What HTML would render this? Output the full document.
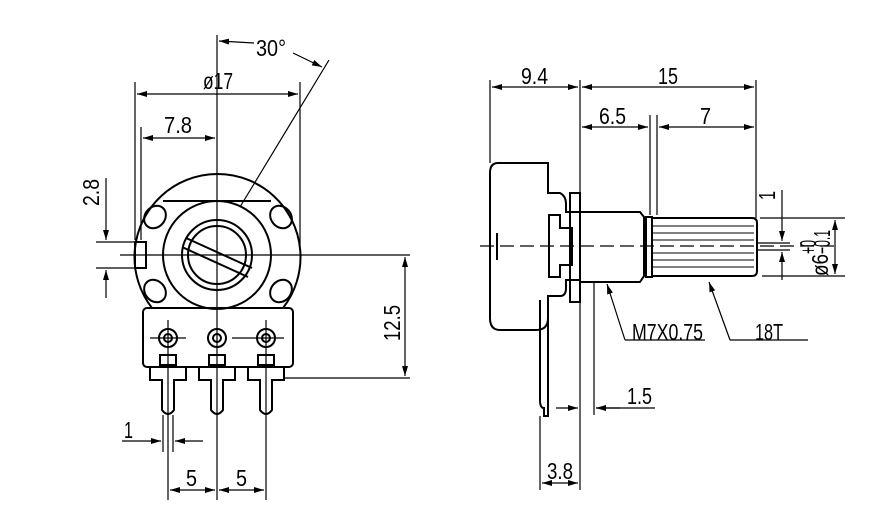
<!DOCTYPE html>
<html><head><meta charset="utf-8"><style>html,body{margin:0;padding:0;background:#fff}svg{display:block}text{font-family:"Liberation Sans",sans-serif;font-size:23px;fill:#000}</style></head><body>
<svg width="874" height="522" viewBox="0 0 874 522" xmlns="http://www.w3.org/2000/svg">
<defs><marker id="a" viewBox="0 0 10 6" refX="10" refY="3" markerWidth="10" markerHeight="6" orient="auto-start-reverse" markerUnits="userSpaceOnUse"><path d="M0,0L10,3L0,6z" fill="#000"/></marker></defs>
<g fill="none" stroke="#000" stroke-width="1.2">
<line x1="217" y1="35" x2="217" y2="500"/>
<line x1="120" y1="255" x2="410" y2="255"/>
<path d="M 152 308 A 83 83 0 1 1 283 308" stroke-width="2"/>
<path d="M163 201 L271 201" stroke-width="2"/>
<circle cx="217" cy="255" r="54" stroke-width="2"/>
<circle cx="217" cy="255" r="35" stroke-width="2"/>
<circle cx="217" cy="255" r="29" stroke-width="2"/>
<path d="M186 238 L252 268 M182 247 L248 277" stroke-width="2"/>
<rect x="135" y="242" width="11" height="26" stroke-width="2"/>
<g stroke-width="2">
<ellipse cx="155" cy="217" rx="10" ry="12" transform="rotate(40 155 217)"/>
<ellipse cx="281" cy="217" rx="10" ry="12" transform="rotate(-40 281 217)"/>
<ellipse cx="155" cy="291" rx="10" ry="12" transform="rotate(-40 155 291)"/>
<ellipse cx="281" cy="291" rx="10" ry="12" transform="rotate(40 281 291)"/>
<rect x="143" y="308" width="150" height="59" rx="4"/>
</g>
<g stroke-width="2">
<circle cx="168" cy="338" r="9"/><circle cx="217" cy="338" r="9"/><circle cx="266" cy="338" r="9"/>
<circle cx="168" cy="338" r="4"/><circle cx="217" cy="338" r="4"/><circle cx="266" cy="338" r="4"/>
<path d="M150 367 V380 H162 V410 Q168 418 174 410 V380 H186 V367"/>
<path d="M199 367 V380 H211 V410 Q217 418 223 410 V380 H235 V367"/>
<path d="M248 367 V380 H260 V410 Q266 418 272 410 V380 H284 V367"/>
<rect x="160" y="355" width="16" height="10"/><rect x="209" y="355" width="16" height="10"/><rect x="258" y="355" width="16" height="10"/>
</g>
<line x1="150" y1="338" x2="186" y2="338"/><line x1="232" y1="338" x2="284" y2="338"/>
<line x1="168" y1="320" x2="168" y2="500"/><line x1="266" y1="320" x2="266" y2="500"/>
<line x1="329" y1="60" x2="240" y2="207"/>
<line x1="135" y1="82" x2="135" y2="240"/><line x1="300" y1="82" x2="300" y2="250"/>
<line x1="137" y1="94" x2="298" y2="94" marker-start="url(#a)" marker-end="url(#a)"/>
<line x1="141" y1="127" x2="141" y2="240"/>
<line x1="143" y1="138" x2="215" y2="138" marker-start="url(#a)" marker-end="url(#a)"/>
<line x1="254" y1="43" x2="219" y2="41" marker-end="url(#a)"/>
<line x1="293" y1="53" x2="322" y2="67" marker-end="url(#a)"/>
<line x1="96" y1="242" x2="135" y2="242"/><line x1="96" y1="268" x2="135" y2="268"/>
<line x1="106" y1="178" x2="106" y2="240" marker-end="url(#a)"/><line x1="106" y1="298" x2="106" y2="270" marker-end="url(#a)"/>
<line x1="285" y1="378" x2="410" y2="378"/>
<line x1="405" y1="257" x2="405" y2="376" marker-start="url(#a)" marker-end="url(#a)"/>
<line x1="163" y1="415" x2="163" y2="452"/><line x1="173" y1="415" x2="173" y2="452"/>
<line x1="122" y1="441" x2="161" y2="441" marker-end="url(#a)"/><line x1="203" y1="441" x2="175" y2="441" marker-end="url(#a)"/>
<line x1="170" y1="490" x2="215" y2="490" marker-start="url(#a)" marker-end="url(#a)"/>
<line x1="219" y1="490" x2="264" y2="490" marker-start="url(#a)" marker-end="url(#a)"/>
<g stroke-width="2">
<path d="M498 163 H548 V193 H560 Q566 196 566 204 V212 H580 V280 H566 V288 Q566 296 560 296 H548 V318 Q548 330 536 330 H500 Q490 330 490 318 V173 Q490 163 498 163 Z"/>
<rect x="570" y="193" width="10" height="109"/>
<path d="M549 215 H560 V228 H572 V265 H560 V277 H549 Z"/>
<path d="M580 212 H640 L644 217 V276 L640 282 H580"/>
<rect x="646" y="217" width="6" height="60"/>
<path d="M652 218 H752 Q757 218 757 223 V271 Q757 276 752 276 H652"/>
<path d="M540 300 V400 Q540 408 544 408 V416 H548 V302"/>
</g>
<g stroke-width="1">
<line x1="652" y1="226" x2="754" y2="226"/><line x1="652" y1="233" x2="754" y2="233"/><line x1="652" y1="240" x2="754" y2="240"/>
<line x1="652" y1="253" x2="754" y2="253"/><line x1="652" y1="260" x2="754" y2="260"/><line x1="652" y1="267" x2="754" y2="267"/>
</g>
<line x1="497" y1="233" x2="497" y2="260" stroke-width="2"/>
<line x1="480" y1="246" x2="840" y2="246" stroke-dasharray="14 6"/>
<line x1="757" y1="243" x2="790" y2="243"/><line x1="757" y1="250" x2="790" y2="250"/>
<line x1="490" y1="80" x2="490" y2="163"/><line x1="580" y1="80" x2="580" y2="415"/>
<line x1="650" y1="115" x2="650" y2="215"/><line x1="657" y1="115" x2="657" y2="215"/>
<line x1="756" y1="80" x2="756" y2="218"/>
<line x1="492" y1="87" x2="578" y2="87" marker-start="url(#a)" marker-end="url(#a)"/>
<line x1="582" y1="87" x2="754" y2="87" marker-start="url(#a)" marker-end="url(#a)"/>
<line x1="582" y1="127" x2="648" y2="127" marker-start="url(#a)" marker-end="url(#a)"/>
<line x1="659" y1="127" x2="754" y2="127" marker-start="url(#a)" marker-end="url(#a)"/>
<line x1="782" y1="190" x2="782" y2="241" marker-end="url(#a)"/><line x1="782" y1="280" x2="782" y2="252" marker-end="url(#a)"/>
<line x1="760" y1="218" x2="845" y2="218"/><line x1="762" y1="276" x2="845" y2="276"/>
<line x1="835" y1="220" x2="835" y2="274" marker-start="url(#a)" marker-end="url(#a)"/>
<line x1="625" y1="340" x2="607" y2="284" marker-end="url(#a)"/><line x1="625" y1="340" x2="705" y2="340"/>
<line x1="730" y1="340" x2="709" y2="282" marker-end="url(#a)"/><line x1="730" y1="340" x2="808" y2="340"/>
<line x1="594" y1="282" x2="594" y2="415"/>
<line x1="556" y1="408" x2="578" y2="408" marker-end="url(#a)"/><line x1="620" y1="408" x2="596" y2="408" marker-end="url(#a)"/>
<line x1="596" y1="408" x2="655" y2="408"/>
<line x1="540" y1="416" x2="540" y2="490"/><line x1="580" y1="415" x2="580" y2="490"/>
<line x1="542" y1="483" x2="578" y2="483" marker-start="url(#a)" marker-end="url(#a)"/>
</g>
<g>
<text x="203" y="89" textLength="30" lengthAdjust="spacingAndGlyphs">ø17</text>
<text x="164" y="133" textLength="28" lengthAdjust="spacingAndGlyphs">7.8</text>
<text x="256" y="56" textLength="30" lengthAdjust="spacingAndGlyphs">30°</text>
<text transform="translate(99,206) rotate(-90)" textLength="27" lengthAdjust="spacingAndGlyphs">2.8</text>
<text transform="translate(400,341) rotate(-90)" textLength="36" lengthAdjust="spacingAndGlyphs">12.5</text>
<text x="124" y="438" textLength="9" lengthAdjust="spacingAndGlyphs">1</text>
<text x="186" y="486" textLength="11" lengthAdjust="spacingAndGlyphs">5</text>
<text x="236" y="486" textLength="11" lengthAdjust="spacingAndGlyphs">5</text>
<text x="521" y="84" textLength="27" lengthAdjust="spacingAndGlyphs">9.4</text>
<text x="658" y="84" textLength="20" lengthAdjust="spacingAndGlyphs">15</text>
<text x="599" y="124" textLength="27" lengthAdjust="spacingAndGlyphs">6.5</text>
<text x="700" y="124" textLength="11" lengthAdjust="spacingAndGlyphs">7</text>
<text transform="translate(775,200) rotate(-90)" textLength="9" lengthAdjust="spacingAndGlyphs">1</text>
<text transform="translate(828,276) rotate(-90)" textLength="22" lengthAdjust="spacingAndGlyphs">ø6</text>
<text transform="translate(816,254) rotate(-90)" font-size="15" textLength="14" lengthAdjust="spacingAndGlyphs">+0</text>
<text transform="translate(830,254) rotate(-90)" font-size="15" textLength="24" lengthAdjust="spacingAndGlyphs">−0.1</text>
<text x="632" y="340" textLength="71" lengthAdjust="spacingAndGlyphs">M7X0.75</text>
<text x="755" y="340" textLength="28" lengthAdjust="spacingAndGlyphs">18T</text>
<text x="627" y="404" textLength="25" lengthAdjust="spacingAndGlyphs">1.5</text>
<text x="547" y="479" textLength="26" lengthAdjust="spacingAndGlyphs">3.8</text>
</g>
</svg>
</body></html>
